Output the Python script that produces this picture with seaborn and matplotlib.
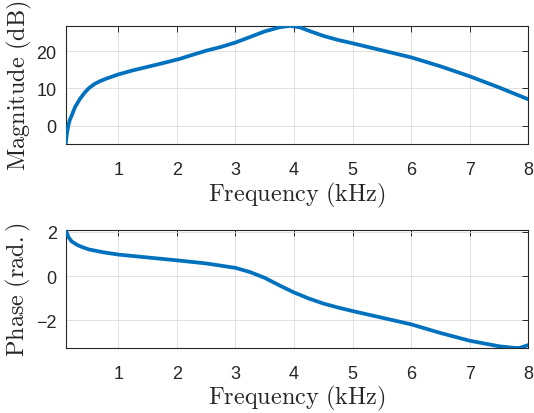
import numpy as np
import pandas as pd
import matplotlib
matplotlib.use("Agg")
import matplotlib.pyplot as plt
import seaborn as sns

sns.set_theme(style="white")
plt.rcParams['font.family'] = ['Liberation Sans', 'DejaVu Sans']
plt.rcParams['mathtext.fontset'] = 'cm'

# Magnitude response (kHz, dB)
mag_freq = [0.1, 0.12, 0.145, 0.17, 0.2, 0.26, 0.34, 0.42, 0.49, 0.59, 0.69, 0.8,
            1.0, 1.25, 1.54, 1.75, 2.05, 2.25, 2.5, 2.75, 3.0, 3.25, 3.5, 3.75,
            3.93, 4.1, 4.25, 4.5, 4.75, 5.0, 5.5, 6.0, 6.5, 7.0, 7.5, 8.0]
mag_db = [-5.1, -2.3, 0.0, 1.5, 2.6, 5.0, 7.1, 8.8, 10.0, 11.2, 12.0, 12.7,
          13.8, 14.9, 16.0, 16.8, 18.0, 19.0, 20.2, 21.2, 22.4, 23.9, 25.4, 26.5,
          26.9, 26.5, 25.6, 24.2, 23.1, 22.2, 20.3, 18.4, 16.0, 13.3, 10.3, 7.1]

# Phase response (kHz, rad.)
ph_freq = [0.1, 0.15, 0.2, 0.3, 0.4, 0.5, 0.75, 1.0, 1.5, 2.0, 2.5, 3.0, 3.25,
           3.5, 3.75, 4.0, 4.25, 4.5, 4.75, 5.0, 5.5, 6.0, 6.5, 7.0, 7.5, 7.75,
           7.85, 8.0]
ph_rad = [2.08, 1.75, 1.57, 1.40, 1.29, 1.20, 1.07, 0.97, 0.84, 0.71, 0.57, 0.37,
          0.18, -0.08, -0.42, -0.74, -1.01, -1.24, -1.42, -1.58, -1.88, -2.18,
          -2.57, -2.92, -3.17, -3.24, -3.25, -3.12]

mag_ticks = [0, 10, 20]
ph_ticks = [-2, 0, 2]
freq_ticks = [1, 2, 3, 4, 5, 6, 7, 8]

line_color = '#0072BD'
frame_color = '#262626'

mag_df = pd.DataFrame({'freq': mag_freq, 'val': mag_db})
ph_df = pd.DataFrame({'freq': ph_freq, 'val': ph_rad})

fig = plt.figure(figsize=(5.34, 4.14), dpi=100)
ax1 = fig.add_axes([0.123, 0.6486, 0.866, 0.287])
ax2 = fig.add_axes([0.123, 0.157, 0.866, 0.285])

panels = [
    (ax1, mag_df, mag_ticks, (-5.1, 26.95), r'$\mathrm{Magnitude\ (dB)}$'),
    (ax2, ph_df, ph_ticks, (-3.25, 2.08), r'$\mathrm{Phase\ (rad.)}$'),
]

for ax, df, yticks, ylim, ylabel in panels:
    sns.lineplot(data=df, x='freq', y='val', ax=ax, color=line_color,
                 linewidth=2.7, zorder=3)
    ax.set_xlim(0.1, 8)
    ax.set_ylim(*ylim)
    ax.set_xticks(freq_ticks)
    ax.set_yticks(yticks)
    ax.grid(True, color='#dcdcdc', linewidth=0.6)
    ax.set_axisbelow(True)
    for s in ax.spines.values():
        s.set_color(frame_color)
        s.set_linewidth(0.8)
        s.set_visible(True)
    ax.tick_params(direction='in', length=4, width=0.7, color=frame_color,
                   top=True, right=True, labelsize=13, labelcolor=frame_color)
    ax.tick_params(axis='x', pad=12)
    ax.tick_params(axis='y', pad=6.5)
    ax.set_xlabel(r'$\mathrm{Frequency\ (kHz)}$', fontsize=17.5,
                  color=frame_color, labelpad=1)
    ax.set_ylabel(ylabel, fontsize=17.5, color=frame_color, labelpad=2)

fig.savefig('out.png', dpi=100)
